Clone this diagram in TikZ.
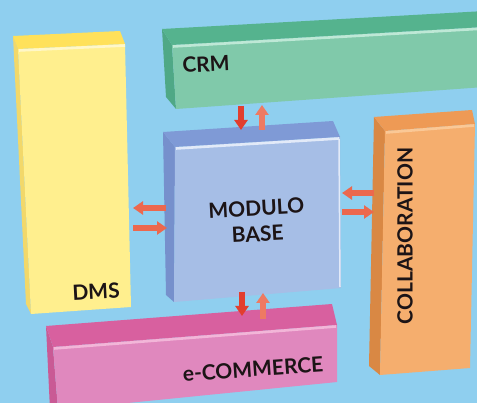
\documentclass[tikz,border=0pt]{standalone}
\usepackage{fontspec}
\setmainfont{Lato}
\usetikzlibrary{arrows.meta}
\definecolor{bg}{RGB}{143,207,239}
\definecolor{dmsfront}{RGB}{255,239,142}
\definecolor{dmstop}{RGB}{255,225,90}
\definecolor{dmsside}{RGB}{242,216,106}
\definecolor{dmshl}{RGB}{255,247,200}
\definecolor{crmfront}{RGB}{128,201,170}
\definecolor{crmtop}{RGB}{85,179,142}
\definecolor{crmside}{RGB}{79,168,134}
\definecolor{crmhl}{RGB}{190,232,214}
\definecolor{modfront}{RGB}{166,190,230}
\definecolor{modtop}{RGB}{127,154,214}
\definecolor{modside}{RGB}{118,144,204}
\definecolor{modhl}{RGB}{226,234,248}
\definecolor{colfront}{RGB}{245,174,110}
\definecolor{coltop}{RGB}{238,154,85}
\definecolor{colside}{RGB}{217,136,68}
\definecolor{colhl}{RGB}{250,200,150}
\definecolor{ecofront}{RGB}{224,136,190}
\definecolor{ecotop}{RGB}{216,96,159}
\definecolor{ecoside}{RGB}{201,90,149}
\definecolor{ecohl}{RGB}{242,182,216}
\definecolor{arrdark}{RGB}{226,62,46}
\definecolor{arrlight}{RGB}{238,122,98}
\definecolor{arrmid}{RGB}{236,104,78}
\definecolor{txt}{RGB}{28,20,22}
\begin{document}
\begin{tikzpicture}[x=1pt,y=-1pt,
  lbl/.style={font=\bfseries\fontsize{21}{24}\selectfont, text=txt, inner sep=0pt},
  hl/.style={line width=2.6pt},
  blockarrow/.style={line width=5.5pt, -{Triangle[width=13pt,length=10pt]}, shorten >=0pt}]
\useasboundingbox (0,0) rectangle (477,403);
\clip (0,0) rectangle (477,403);
\fill[bg] (0,0) rectangle (477,403);

% DMS box
\fill[dmsside] (13,36) -- (18,49) -- (31,314) -- (26,304) -- cycle;
\fill[dmstop] (13,36) -- (120,31) -- (125,44) -- (18,49) -- cycle;
\fill[dmsfront] (18,49) -- (125,44) -- (131,307) -- (31,314) -- cycle;
\draw[dmshl,hl] (19,50.5) -- (125,45.5);
\node[lbl, rotate=3] (dms) at (96,292) {DMS};

% CRM box
\fill[crmside] (162,29) -- (172,45) -- (176,109) -- (166,97) -- cycle;
\fill[crmtop] (162,29) -- (485,11) -- (485,27) -- (172,45) -- cycle;
\fill[crmfront] (172,45) -- (485,27) -- (485,87) -- (176,109) -- cycle;
\draw[crmhl,hl] (173,46.5) -- (485,28.5);
\node[lbl, rotate=3] (crm) at (206,64) {CRM};

% Modulo base box
\fill[modside] (163,132) -- (175,147) -- (174,302) -- (166,295) -- cycle;
\fill[modtop] (163,132) -- (333,121) -- (340,137) -- (175,147) -- cycle;
\fill[modfront] (175,147) -- (340,137) -- (341,288) -- (174,302) -- cycle;
\draw[modhl,hl] (176,148.5) -- (339,138.5);
\draw[modhl,line width=1.5pt] (339,139) -- (340,287);
\node[lbl, rotate=3, align=center] (mod) at (257,221) {MODULO\\[2pt]BASE};

% Collaboration box
\fill[colside] (374,117) -- (385,131) -- (380,375) -- (369,366) -- cycle;
\fill[coltop] (374,117) -- (472,110) -- (475,124) -- (385,131) -- cycle;
\fill[colfront] (385,131) -- (475,124) -- (470,368) -- (380,375) -- cycle;
\draw[colhl,hl] (386,132.5) -- (474,125.5);
\node[lbl, rotate=90] (col) at (405,236) {COLLABORATION};

% e-Commerce box
\fill[ecoside] (46,326) -- (53,347) -- (58,410) -- (50,410) -- cycle;
\fill[ecotop] (46,326) -- (332,304) -- (337,325) -- (53,347) -- cycle;
\fill[ecofront] (53,347) -- (337,325) -- (337,382) -- (58,410) -- cycle;
\draw[ecohl,hl] (54,348.5) -- (336,326.5);
\node[lbl, rotate=4] (eco) at (253,369) {e-COMMERCE};

% connector anchor points
\coordinate (crmA) at (241,106);
\coordinate (modA) at (241,130);
\coordinate (modB) at (262,130);
\coordinate (crmB) at (262,105);
\coordinate (modL1) at (166,208);
\coordinate (dmsR1) at (133,208);
\coordinate (dmsR2) at (133,228);
\coordinate (modL2) at (167,228);
\coordinate (colL1) at (374,193);
\coordinate (modR1) at (342,193);
\coordinate (modR2) at (342,212);
\coordinate (colL2) at (374,212);
\coordinate (modC) at (242,292);
\coordinate (ecoC) at (242,316);
\coordinate (ecoD) at (263,319);
\coordinate (modD) at (263,293);

% arrows
\draw[blockarrow, arrdark] (crmA) -- (modA);
\draw[blockarrow, arrlight] (modB) -- (crmB);
\draw[blockarrow, arrmid] (modL1) -- (dmsR1);
\draw[blockarrow, arrmid] (dmsR2) -- (modL2);
\draw[blockarrow, arrmid] (colL1) -- (modR1);
\draw[blockarrow, arrmid] (modR2) -- (colL2);
\draw[blockarrow, arrdark] (modC) -- (ecoC);
\draw[blockarrow, arrlight] (ecoD) -- (modD);
\end{tikzpicture}
\end{document}
